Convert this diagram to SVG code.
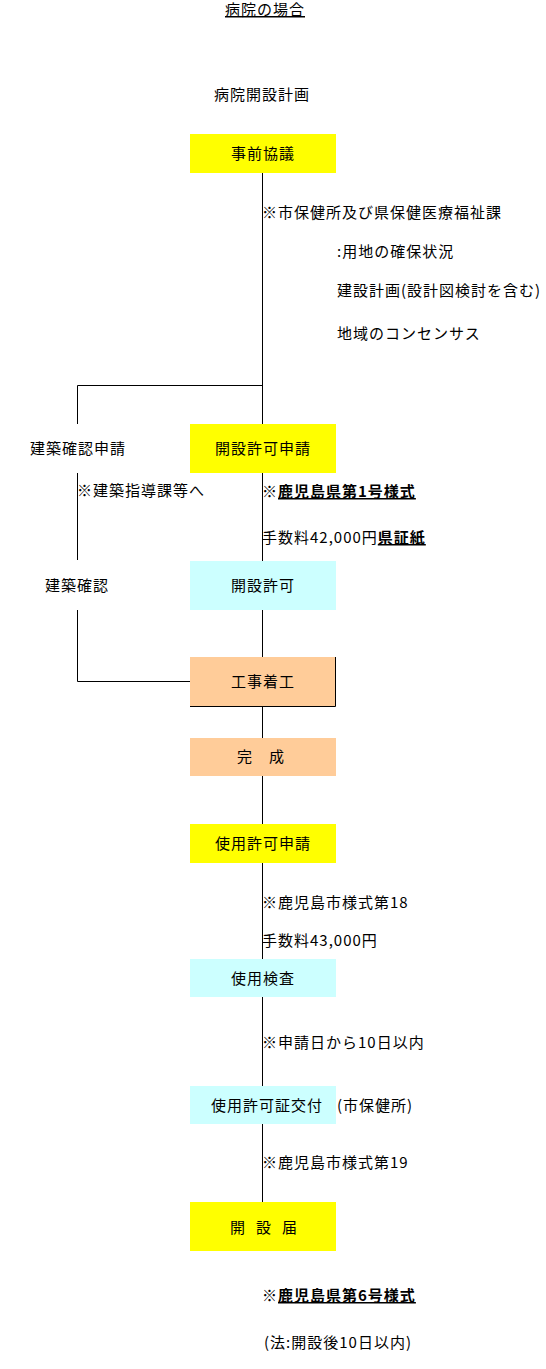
<svg xmlns="http://www.w3.org/2000/svg" width="546" height="1369" viewBox="0 0 546 1369">
<style>
text{font-family:"Noto Sans CJK JP","Liberation Sans",sans-serif;font-size:15px;letter-spacing:1px;fill:#000}
.c{text-anchor:middle}
.b{font-weight:bold}
.u{text-decoration:underline}
.ln{stroke:#000;stroke-width:1;fill:none}
.y{fill:#FFFF00}
.cy{fill:#CCFFFF}
.o{fill:#FFCC99}
</style>
<rect width="546" height="1369" fill="#fff"/>
<g id="connectors">
<line class="ln" x1="262.5" y1="173" x2="262.5" y2="1202"/>
<polyline class="ln" points="262.5,385.5 77.5,385.5 77.5,424"/>
<line class="ln" x1="77.5" y1="473" x2="77.5" y2="560"/>
<polyline class="ln" points="77.5,610 77.5,681.5 190,681.5"/>
</g>
<g id="title"><text class="c u" x="265" y="15">病院の場合</text></g>
<g id="plan"><text class="c" x="262" y="100">病院開設計画</text></g>
<g id="jizen"><rect class="y" x="190" y="134" width="146" height="39"/><text class="c" x="263" y="159">事前協議</text></g>
<g id="note1">
<text x="262" y="218">※市保健所及び県保健医療福祉課</text>
<text x="337" y="257">:用地の確保状況</text>
<text x="337" y="296">建設計画(設計図検討を含む)</text>
<text x="337" y="339">地域のコンセンサス</text>
</g>
<g id="kenchiku-shinsei"><text x="30" y="454">建築確認申請</text><text x="77" y="496">※建築指導課等へ</text></g>
<g id="kaisetsu-shinsei"><rect class="y" x="190" y="424" width="146" height="49"/><text class="c" x="263" y="454">開設許可申請</text></g>
<g id="note2">
<text x="262" y="497">※<tspan class="b u">鹿児島県第1号様式</tspan></text>
<text x="262" y="543">手数料42,000円<tspan class="b u">県証紙</tspan></text>
</g>
<g id="kenchiku-kakunin"><text x="45" y="591">建築確認</text></g>
<g id="kaisetsu-kyoka"><rect class="cy" x="190" y="561" width="146" height="49"/><text class="c" x="263" y="591">開設許可</text></g>
<g id="koji"><rect class="o" x="190" y="657" width="146" height="49"/><polyline class="ln" points="335.5,657 335.5,706.5 190,706.5"/><text class="c" x="263" y="687">工事着工</text></g>
<g id="kansei"><rect class="o" x="190" y="738" width="146" height="38"/><text class="c" x="261" y="762">完　成</text></g>
<g id="shiyo-shinsei"><rect class="y" x="190" y="824" width="146" height="39"/><text class="c" x="263" y="849">使用許可申請</text></g>
<g id="note3"><text x="262" y="908">※鹿児島市様式第18</text><text x="262" y="946">手数料43,000円</text></g>
<g id="kensa"><rect class="cy" x="190" y="959" width="146" height="38"/><text class="c" x="263" y="984">使用検査</text></g>
<g id="note4"><text x="262" y="1048">※申請日から10日以内</text></g>
<g id="kofu"><rect class="cy" x="190" y="1086" width="146" height="38"/><text class="c" x="267" y="1111">使用許可証交付</text><text x="337" y="1111">(市保健所)</text></g>
<g id="note5"><text x="262" y="1168">※鹿児島市様式第19</text></g>
<g id="todoke"><rect class="y" x="190" y="1202" width="146" height="49"/><text x="230" y="1233">開</text><text x="256" y="1233">設</text><text x="282" y="1233">届</text></g>
<g id="note6">
<text x="262" y="1301">※<tspan class="b u">鹿児島県第6号様式</tspan></text>
<text x="264" y="1348">(法:開設後10日以内)</text>
</g>
</svg>
